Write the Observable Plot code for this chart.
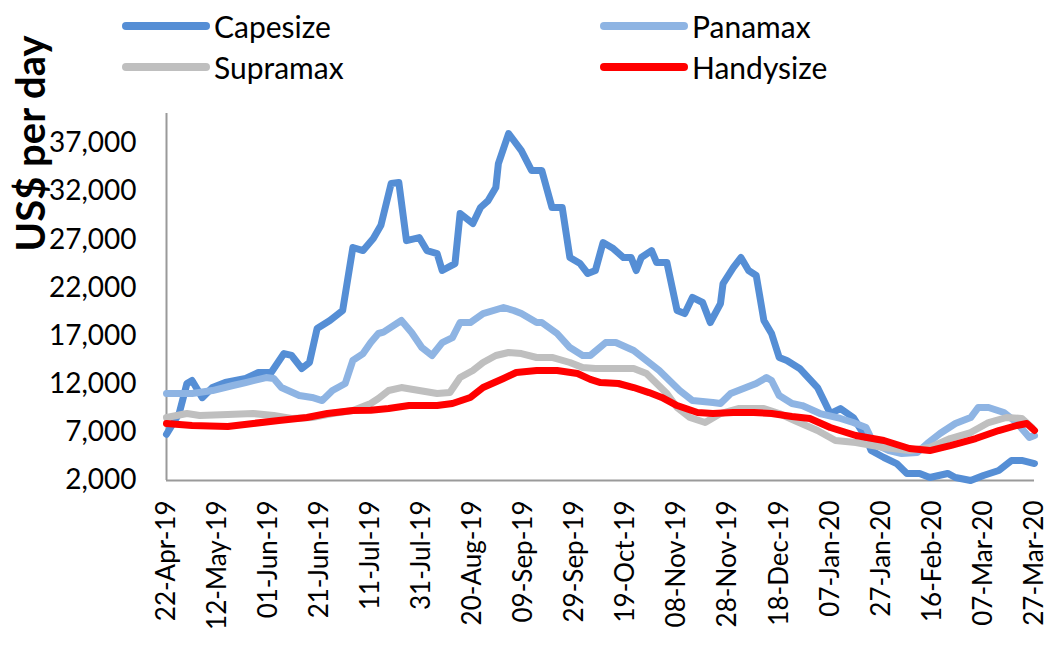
<!DOCTYPE html>
<html>
<head>
<meta charset="utf-8">
<script src="https://cdn.jsdelivr.net/npm/d3@7"></script>
<script src="https://cdn.jsdelivr.net/npm/@observablehq/plot@0.6"></script>
<style>
  html, body { margin: 0; padding: 0; background: #fff; }
  #wrap { position: relative; width: 1048px; height: 645px; font-family: Lato, "Open Sans", sans-serif; overflow: hidden; }
  .lg { position: absolute; display: flex; align-items: center; font-size: 30px; color: #000; line-height: 1; }
  .sw { width: 88px; height: 8px; border-radius: 4px; margin-right: 4px; }
  #chart { position: absolute; left: 0; top: 0; }
</style>
</head>
<body>
<div id="wrap"><div id="chart"></div></div>
<script>
// ---- Data ----
const seriesNames = ["Capesize", "Panamax", "Supramax", "Handysize"];
const seriesColors = ["#558ED5", "#8EB4E3", "#BFBFBF", "#FF0000"];

const capeDates = ["2019-04-22","2019-04-27","2019-04-30","2019-05-02","2019-05-06","2019-05-10","2019-05-15","2019-05-23","2019-05-28","2019-06-02","2019-06-07","2019-06-10","2019-06-14","2019-06-17","2019-06-20","2019-06-25","2019-06-30","2019-07-04","2019-07-08","2019-07-12","2019-07-15","2019-07-19","2019-07-22","2019-07-25","2019-07-30","2019-08-02","2019-08-06","2019-08-08","2019-08-13","2019-08-15","2019-08-20","2019-08-23","2019-08-26","2019-08-29","2019-08-30","2019-09-03","2019-09-08","2019-09-12","2019-09-16","2019-09-20","2019-09-24","2019-09-27","2019-10-01","2019-10-04","2019-10-07","2019-10-10","2019-10-14","2019-10-18","2019-10-21","2019-10-23","2019-10-25","2019-10-29","2019-10-31","2019-11-04","2019-11-08","2019-11-11","2019-11-14","2019-11-18","2019-11-21","2019-11-25","2019-11-26","2019-11-30","2019-12-03","2019-12-06","2019-12-09","2019-12-12","2019-12-15","2019-12-18","2019-12-21","2019-12-26","2020-01-02","2020-01-07","2020-01-11","2020-01-16","2020-01-21","2020-01-23","2020-01-28","2020-02-02","2020-02-06","2020-02-11","2020-02-15","2020-02-22","2020-02-25","2020-03-02","2020-03-07","2020-03-13","2020-03-18","2020-03-22","2020-03-27"];
const capeValues = [6800,9000,12070,12380,10600,11650,12170,12590,13210,13210,15180,14980,13630,14250,17780,18610,19650,26190,25870,27120,28500,32830,32930,26900,27220,25870,25560,23800,24520,29710,28680,30340,31060,32410,34900,38020,36250,34180,34180,30340,30340,25150,24520,23490,23800,26700,26080,25150,25150,23800,25150,25870,24630,24630,19650,19330,21000,20480,18400,20370,22450,24110,25150,23800,23280,18610,17260,14770,14460,13630,11650,8950,9470,8540,6460,5110,4390,3760,2730,2730,2310,2730,2310,2000,2520,3040,4080,4080,3760];

const panaDates = ["2019-04-22","2019-05-02","2019-05-10","2019-05-18","2019-05-23","2019-05-31","2019-06-03","2019-06-06","2019-06-13","2019-06-18","2019-06-22","2019-06-26","2019-07-01","2019-07-04","2019-07-08","2019-07-11","2019-07-14","2019-07-16","2019-07-23","2019-07-27","2019-07-31","2019-08-04","2019-08-08","2019-08-12","2019-08-15","2019-08-19","2019-08-24","2019-09-01","2019-09-05","2019-09-08","2019-09-14","2019-09-16","2019-09-22","2019-09-27","2019-10-02","2019-10-05","2019-10-11","2019-10-15","2019-10-22","2019-10-27","2019-11-01","2019-11-05","2019-11-09","2019-11-14","2019-11-22","2019-11-25","2019-11-29","2019-12-05","2019-12-09","2019-12-13","2019-12-15","2019-12-18","2019-12-23","2019-12-27","2020-01-03","2020-01-11","2020-01-16","2020-01-21","2020-01-24","2020-01-30","2020-02-04","2020-02-10","2020-02-14","2020-02-19","2020-02-25","2020-03-02","2020-03-05","2020-03-09","2020-03-15","2020-03-20","2020-03-25","2020-03-27"];
const panaValues = [11030,11030,11340,11860,12170,12690,12590,11650,10820,10620,10300,11340,12070,14460,15180,16320,17260,17400,18610,17360,15800,14980,16320,16840,18400,18400,19330,19960,19650,19330,18400,18400,17260,15800,14980,14980,16320,16320,15490,14460,13420,12380,11340,10300,10100,9990,11030,11650,12070,12690,12380,10820,9990,9780,8950,8440,8020,7500,5840,5110,4800,4900,5840,6880,7920,8540,9580,9580,9060,8020,6460,6670];

const supraDates = ["2019-04-22","2019-04-30","2019-05-05","2019-05-16","2019-05-26","2019-06-03","2019-06-10","2019-06-18","2019-06-26","2019-07-04","2019-07-11","2019-07-14","2019-07-18","2019-07-23","2019-07-30","2019-08-06","2019-08-11","2019-08-15","2019-08-20","2019-08-24","2019-08-29","2019-09-03","2019-09-08","2019-09-14","2019-09-20","2019-09-27","2019-10-02","2019-10-07","2019-10-14","2019-10-22","2019-10-27","2019-10-31","2019-11-04","2019-11-08","2019-11-13","2019-11-19","2019-11-25","2019-12-02","2019-12-12","2019-12-18","2019-12-24","2020-01-02","2020-01-09","2020-01-17","2020-01-28","2020-02-07","2020-02-15","2020-02-23","2020-03-02","2020-03-09","2020-03-16","2020-03-22","2020-03-26"];
const supraValues = [8540,8950,8750,8850,8950,8750,8430,8540,8950,9270,9990,10510,11340,11650,11340,11030,11130,12690,13420,14250,14980,15290,15180,14770,14770,14250,13730,13630,13630,13630,13110,12070,11030,9580,8540,8020,8950,9470,9470,8950,8230,7190,6150,5940,5430,5110,5430,6360,6980,8020,8540,8440,7500];

const handyDates = ["2019-04-22","2019-05-02","2019-05-16","2019-05-26","2019-06-05","2019-06-16","2019-06-24","2019-07-04","2019-07-11","2019-07-18","2019-07-26","2019-08-06","2019-08-12","2019-08-19","2019-08-24","2019-09-01","2019-09-06","2019-09-14","2019-09-22","2019-09-30","2019-10-05","2019-10-09","2019-10-16","2019-10-22","2019-10-28","2019-11-02","2019-11-08","2019-11-16","2019-11-22","2019-11-30","2019-12-08","2019-12-15","2019-12-23","2019-12-30","2020-01-07","2020-01-17","2020-01-28","2020-02-07","2020-02-15","2020-02-23","2020-03-04","2020-03-13","2020-03-20","2020-03-24","2020-03-27"];
const handyValues = [7920,7710,7610,7920,8230,8540,8950,9270,9300,9470,9780,9780,9990,10620,11650,12590,13210,13420,13420,13110,12500,12170,12070,11650,11130,10620,9780,9060,8950,9060,9060,8950,8640,8440,7500,6670,6150,5320,5110,5630,6360,7190,7710,7920,7190];

const xTickLabels = ["22-Apr-19","12-May-19","01-Jun-19","21-Jun-19","11-Jul-19","31-Jul-19","20-Aug-19","09-Sep-19","29-Sep-19","19-Oct-19","08-Nov-19","28-Nov-19","18-Dec-19","07-Jan-20","27-Jan-20","16-Feb-20","07-Mar-20","27-Mar-20"];
const yTicks = [2000, 7000, 12000, 17000, 22000, 27000, 32000, 37000];
const yTitle = "US$ per day";

// ---- Build table ----
const parseTick = d3.utcParse("%d-%b-%y");
const xTicks = xTickLabels.map(parseTick);
const fmtTick = d3.utcFormat("%d-%b-%y");
const parse = d3.utcParse("%Y-%m-%d");
const all = [[capeDates, capeValues], [panaDates, panaValues], [supraDates, supraValues], [handyDates, handyValues]];
const rows = [];
all.forEach(([ds, vs], i) => ds.forEach((d, j) => rows.push({series: seriesNames[i], date: parse(d), value: vs[j]})));

const chart = Plot.plot({
  width: 1048,
  height: 645,
  marginLeft: 166,
  marginRight: 14,
  marginTop: 113,
  marginBottom: 165,
  style: {fontFamily: "Lato, 'Open Sans', sans-serif", fontSize: "28px", color: "#000", background: "transparent"},
  x: {type: "utc", domain: [xTicks[0], xTicks[xTicks.length - 1]]},
  y: {domain: [2000, 40100]},
  color: {domain: seriesNames, range: seriesColors},
  marks: [
    Plot.axisY({ticks: yTicks, tickSize: 0, tickPadding: 30, tickFormat: d3.format(","), label: null, fontSize: 28}),
    Plot.axisX({ticks: xTicks, tickSize: 0, tickPadding: 20, tickRotate: -90, tickFormat: fmtTick, label: null, fontSize: 26}),
    Plot.ruleX([xTicks[0]], {stroke: "#9a9a9a", strokeWidth: 2}),
    Plot.ruleY([2000], {stroke: "#9a9a9a", strokeWidth: 2}),
    Plot.line(rows, {x: "date", y: "value", z: "series", stroke: "series", strokeWidth: 7, strokeLinejoin: "round", strokeLinecap: "round"}),
    Plot.text([yTitle], {frameAnchor: "top-left", dx: -134, dy: 30, rotate: -90, textAnchor: "middle", lineAnchor: "middle", fontSize: 40, fontWeight: "bold", fill: "#000"})
  ]
});
document.getElementById("chart").appendChild(chart);

// ---- Legend ----
const legendPos = [[122, 26], [600, 26], [122, 67], [600, 67]];
const legendOrder = ["Capesize", "Panamax", "Supramax", "Handysize"];
const wrap = document.getElementById("wrap");
legendOrder.forEach((name, i) => {
  const el = document.createElement("div");
  el.className = "lg";
  el.style.left = legendPos[i][0] + "px";
  el.style.top = (legendPos[i][1] - 16) + "px";
  el.style.height = "32px";
  const sw = document.createElement("span");
  sw.className = "sw";
  sw.style.background = seriesColors[seriesNames.indexOf(name)];
  const tx = document.createElement("span");
  tx.textContent = name;
  el.appendChild(sw);
  el.appendChild(tx);
  wrap.appendChild(el);
});
</script>
</body>
</html>
